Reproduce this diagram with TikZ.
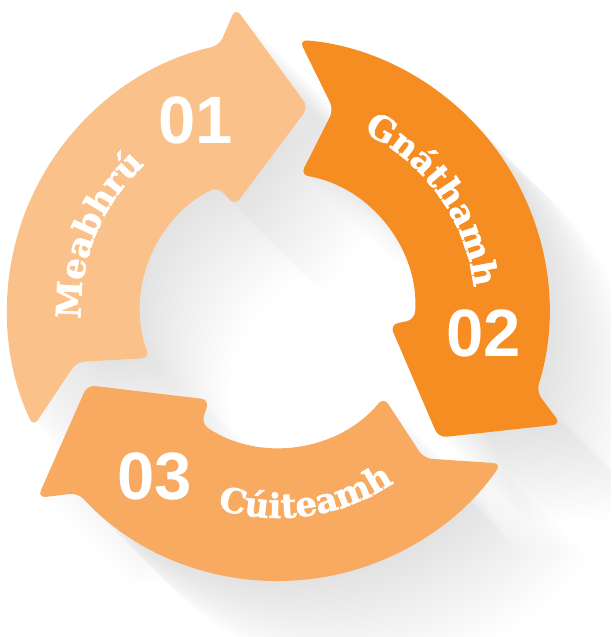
\documentclass[tikz,border=0pt]{standalone}
\usepackage{fontspec}
\usepackage{tikz}
\newfontfamily\wordfont[BoldFeatures={FakeBold=1.6}]{DejaVu Serif}
\newfontfamily\numfont{Liberation Sans}
\usetikzlibrary{
    decorations.text
}
\tikzset{
  shaft/.style   = {rounded corners=8pt},
  shadowfill/.style = {fill=black, fill opacity=0.005, rounded corners=8pt},
  num/.style     = {text=white, inner sep=0pt,
                    font=\numfont\bfseries\fontsize{67}{67}\selectfont}
}
\definecolor{stepOne}{RGB}{250,193,139}
\definecolor{stepTwo}{RGB}{245,141,35}
\definecolor{stepThree}{RGB}{248,170,97}
% one arrow of the ring, head pointing clockwise
\newcommand{\ringarrow}{(74.5:208) -- (80.5:137)
    arc[start angle=80.5, end angle=-4, radius=137]
    -- (-7.5:113) -- (-38.5:205) -- (-22:305) -- (-17.5:271)
    arc[start angle=-17.5, end angle=85.5, radius=271] -- cycle}

\begin{document}
\begin{tikzpicture}[x=1pt, y=1pt,
    word/.style={decorate, decoration={text along path, text align=center,
                 text color=white,
                 text={|\wordfont\bfseries\fontsize{34}{34}\selectfont|#1}}}
  ]
    \useasboundingbox (-278,-327) rectangle (333,310);
    \clip (-278,-327) rectangle (333,310);

    % long shadows
    \foreach \a in {0,120,240}{
      \foreach \s in {1,...,28}{
        \begin{scope}[shift={(3.2*\s,-3.2*\s)}, rotate=\a]
          \fill[shadowfill] \ringarrow;
        \end{scope}
      }
    }

    % arrows
    \begin{scope}[rotate=120]
      \fill[shaft, stepOne] \ringarrow;
    \end{scope}
    \fill[shaft, stepTwo] \ringarrow;
    \begin{scope}[rotate=240]
      \fill[shaft, stepThree] \ringarrow;
    \end{scope}

    % labels
    \node[num](n01) at (113.5:207) {01};
    \node[num](n02) at (-6.5:207)  {02};
    \node[num](n03) at (233.5:207) {03};

    \path[word=Meabhrú]  (205:197) arc[start angle=205, end angle=110, radius=197];
    \path[word=Gnáthamh] (85:197)  arc[start angle=85,  end angle=-14, radius=197];
    \path[word=Cúiteamh] (230:208) arc[start angle=230, end angle=327, radius=208];
  \end{tikzpicture}
\end{document}
